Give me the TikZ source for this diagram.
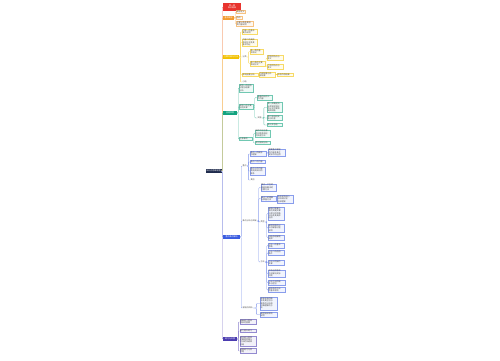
\documentclass[tikz,border=0pt]{standalone}
\usepackage{fontspec}
\setmainfont{Noto Sans CJK SC}
\usepackage{xcolor}
\usepackage{tikz}
\usetikzlibrary{positioning}
\definecolor{rootc}{HTML}{1F2B4D}
\definecolor{redc}{HTML}{E8342E}
\definecolor{orgc}{HTML}{F29B30}
\definecolor{ylwc}{HTML}{F2C100}
\definecolor{grnc}{HTML}{12A37F}
\definecolor{bluc}{HTML}{3A5CE0}
\definecolor{purc}{HTML}{4B3CB0}
\definecolor{inkc}{HTML}{4A4A4A}
\tikzset{
  mm/.style={rectangle, inner sep=0.5pt, align=left, font=\fontsize{2}{2.35}\selectfont},
  rootn/.style={mm, fill=rootc, text=white, minimum height=4pt, minimum width=16pt, align=center},
  brn/.style={mm, fill=#1, text=white, minimum height=4pt, anchor=west, align=center, inner sep=0.3pt},
  leaf/.style={mm, draw=#1!60, line width=0.25pt, fill=#1!7, text=inkc, anchor=west},
  tag/.style={mm, text=inkc, anchor=west},
  lk/.style={draw=#1!65, line width=0.35pt, rounded corners=0.8pt},
}
\begin{document}
\begin{tikzpicture}[x=1pt,y=-1pt]
  \useasboundingbox (0,0) rectangle (500,360);
  \node[rootn] (root) at (213.5,171) {知识点思维导图};

  % main branches
  \node[brn=redc, minimum width=18pt, minimum height=8pt] (title) at (223,7) {第一章\\知识框架};
  \node[brn=orgc, minimum width=11pt] (basic) at (223,18) {基本概念};
  \node[brn=ylwc, minimum width=16pt] (ylw) at (223,57) {主要内容与方法};
  \node[brn=grnc, minimum width=14pt] (grn) at (223,113) {应用举例};
  \node[brn=bluc, minimum width=17pt] (blu) at (223,237) {重点难点解析};
  \node[brn=purc, minimum width=14pt] (pur) at (223,339) {练习与巩固};

  % orange
  \node[leaf=orgc, text width=8pt] (o1) at (236,12) {概念定义};
  \node[leaf=orgc, text width=4.5pt] (o2) at (236,17.5) {特点};
  \node[leaf=orgc, text width=16pt] (o3) at (236,24) {主要分类及其相\\关内容说明};

  % yellow
  \node[leaf=ylwc, text width=14pt] (y1) at (242,32) {内容一的基本\\要点说明};
  \node[leaf=ylwc, text width=14pt] (y2) at (242,42.5) {内容二的具体\\表现形式及其\\基本特征};
  \node[tag] (y3) at (242,57) {分类};
  \node[leaf=ylwc, text width=12pt] (y31) at (250,51.5) {第一类的基\\本情况};
  \node[leaf=ylwc, text width=14pt] (y32) at (250,63.5) {第二类的主要\\表现形式};
  \node[leaf=ylwc, text width=15pt] (y321) at (267,58) {甲型的特点与\\意义};
  \node[leaf=ylwc, text width=15pt] (y322) at (267,66.5) {乙型的特点与\\意义};
  \node[leaf=ylwc, text width=15pt] (y4) at (242,74.5) {影响因素分析};
  \node[leaf=ylwc, text width=15pt] (y41) at (259,74.5) {内部因素与外\\部因素};
  \node[leaf=ylwc, text width=15pt] (y411) at (277,74.5) {综合作用结果};
  \node[tag] (y5) at (242,82) {小结};

  % green
  \node[leaf=grnc, text width=13pt] (g1) at (239,88) {实例一的应用\\过程与结果\\分析};
  \node[leaf=grnc, text width=13pt] (g2) at (239,106.5) {实例二的主要\\应用步骤};
  \node[leaf=grnc, text width=14pt] (g21) at (257,97.5) {准备阶段的工\\作内容};
  \node[tag] (g22) at (257,118) {实施};
  \node[leaf=grnc, text width=14pt] (g221) at (267,107.5) {第一步确定目\\标并制定相应\\的计划方案和\\具体措施};
  \node[leaf=grnc, text width=14pt] (g222) at (267,118) {第二步组织实\\施与检查};
  \node[leaf=grnc, text width=14pt] (g223) at (267,125) {第三步总结};
  \node[leaf=grnc, text width=12pt] (g3) at (239,139) {注意事项};
  \node[leaf=grnc, text width=14pt] (g31) at (255,133.5) {操作中应注意\\的问题及相应\\的处理方法};
  \node[leaf=grnc, text width=14pt] (g32) at (255,143) {常见错误分析};

  % blue
  \node[tag] (b1) at (242,166) {重点};
  \node[leaf=bluc, text width=15pt] (b11) at (250,154) {重点一的概念\\与理解};
  \node[leaf=bluc, text width=16pt] (b111) at (268,152.5) {需要重点掌握\\的内容及其在\\实际中的运用};
  \node[leaf=bluc, text width=14pt] (b12) at (250,162) {重点二的内容};
  \node[leaf=bluc, text width=14pt] (b13) at (250,171) {重点三的内容\\及相关知识的\\联系};
  \node[tag] (b14) at (250,180) {其他};
  \node[tag] (b2) at (242,221) {难点分析与突破};
  \node[leaf=bluc, text width=14pt] (b21) at (260.5,187.5) {难点一产生的\\原因及解决的\\主要方法};
  \node[leaf=bluc, text width=14pt] (b22) at (260.5,198.5) {难点二的理解\\与掌握方法};
  \node[leaf=bluc, text width=15pt] (b221) at (277,199) {结合实例进行\\分析和比较\\加深理解};
  \node[tag] (b23) at (260,222) {类型};
  \node[leaf=bluc, text width=15pt] (b231) at (268,213.5) {解题时需要注\\意的关键步骤\\与常见的思路\\分析及其具体\\运用};
  \node[leaf=bluc, text width=15pt] (b232) at (268,228) {典型例题的分\\析与解答过程\\说明};
  \node[leaf=bluc, text width=15pt] (b233) at (268,237.5) {归纳总结解题\\规律};
  \node[tag] (b24) at (260,262) {方法};
  \node[leaf=bluc, text width=15pt] (b241) at (268,245.5) {方法一的基本\\思路};
  \node[leaf=bluc, text width=15pt] (b242) at (268,253) {方法二的适用\\条件};
  \node[leaf=bluc, text width=15pt] (b243) at (268,262.5) {方法三的操作\\步骤};
  \node[leaf=bluc, text width=16pt] (b244) at (268,273.5) {综合运用各种\\方法解决实际\\问题};
  \node[leaf=bluc, text width=16pt] (b245) at (268,282.5) {方法之间的联\\系与区别};
  \node[leaf=bluc, text width=16pt] (b246) at (268,290) {选择合适方法\\的基本原则};
  \node[tag] (b3) at (242,308) {易错点辨析};
  \node[leaf=bluc, text width=16pt] (b31) at (260,303.5) {容易混淆的概\\念及其区别与\\联系的分析和\\正确理解的方\\法};
  \node[leaf=bluc, text width=16pt] (b32) at (260,314.5) {典型错误举例\\说明};

  % purple
  \node[leaf=purc, text width=15pt] (p1) at (239.5,322) {基础练习题目\\及参考答案};
  \node[leaf=purc, text width=15pt] (p2) at (239.5,331) {能力提升练习};
  \node[leaf=purc, text width=15pt] (p3) at (239.5,341) {综合练习题目\\的解题思路与\\方法的归纳和\\总结};
  \node[leaf=purc, text width=15pt] (p4) at (239.5,351) {拓展练习与思\\考题};

  % trunk
  \draw[lk=redc] (root.east) -- ++(0.6,0) |- (title.west);
  \draw[lk=orgc] (root.east) -- ++(0.6,0) |- (basic.west);
  \draw[lk=ylwc] (root.east) -- ++(0.6,0) |- (ylw.west);
  \draw[lk=grnc] (root.east) -- ++(0.6,0) |- (grn.west);
  \draw[lk=purc] (root.east) -- ++(0.6,0) |- (pur.west);
  \draw[lk=bluc] (root.east) -- ++(0.6,0) |- (blu.west);

  % orange links
  \draw[lk=orgc] (basic.east) -- ++(0.8,0) |- (o1.west);
  \draw[lk=orgc] (basic.east) -- ++(0.8,0) |- (o2.west);
  \draw[lk=orgc] (basic.east) -- ++(0.8,0) |- (o3.west);

  % yellow links
  \draw[lk=ylwc] (ylw.east) -- ++(1,0) |- (y1.west);
  \draw[lk=ylwc] (ylw.east) -- ++(1,0) |- (y2.west);
  \draw[lk=ylwc] (ylw.east) -- ++(1,0) |- (y3.west);
  \draw[lk=ylwc] (ylw.east) -- ++(1,0) |- (y4.west);
  \draw[lk=ylwc] (ylw.east) -- ++(1,0) |- (y5.west);
  \draw[lk=ylwc] (y3.east) -- ++(1.2,0) |- (y31.west);
  \draw[lk=ylwc] (y3.east) -- ++(1.2,0) |- (y32.west);
  \draw[lk=ylwc] (y32.east) -- ++(0.8,0) |- (y321.west);
  \draw[lk=ylwc] (y32.east) -- ++(0.8,0) |- (y322.west);
  \draw[lk=ylwc] (y4) -- (y41);
  \draw[lk=ylwc] (y41) -- (y411);

  % green links
  \draw[lk=grnc] (grn.east) -- ++(0.8,0) |- (g1.west);
  \draw[lk=grnc] (grn.east) -- ++(0.8,0) |- (g2.west);
  \draw[lk=grnc] (grn.east) -- ++(0.8,0) |- (g3.west);
  \draw[lk=grnc] (g2.east) -- ++(1.5,0) |- (g21.west);
  \draw[lk=grnc] (g2.east) -- ++(1.5,0) |- (g22.west);
  \draw[lk=grnc] (g22.east) -- ++(1.5,0) |- (g221.west);
  \draw[lk=grnc] (g22.east) -- ++(1.5,0) |- (g222.west);
  \draw[lk=grnc] (g22.east) -- ++(1.5,0) |- (g223.west);
  \draw[lk=grnc] (g3.east) -- ++(1.2,0) |- (g31.west);
  \draw[lk=grnc] (g3.east) -- ++(1.2,0) |- (g32.west);

  % blue links
  \draw[lk=bluc] (blu.east) -- ++(0.8,0) |- (b1.west);
  \draw[lk=bluc] (blu.east) -- ++(0.8,0) |- (b2.west);
  \draw[lk=bluc] (blu.east) -- ++(0.8,0) |- (b3.west);
  \draw[lk=bluc] (b1.east) -- ++(1,0) |- (b11.west);
  \draw[lk=bluc] (b1.east) -- ++(1,0) |- (b12.west);
  \draw[lk=bluc] (b1.east) -- ++(1,0) |- (b13.west);
  \draw[lk=bluc] (b1.east) -- ++(1,0) |- (b14.west);
  \draw[lk=bluc] (b11.east) -- ++(0.8,0) |- (b111.west);
  \draw[lk=bluc] (b2.east) -- ++(1.4,0) |- (b21.west);
  \draw[lk=bluc] (b2.east) -- ++(1.4,0) |- (b22.west);
  \draw[lk=bluc] (b2.east) -- ++(1.4,0) |- (b23.west);
  \draw[lk=bluc] (b2.east) -- ++(1.4,0) |- (b24.west);
  \draw[lk=bluc] (b22) -- (b221);
  \draw[lk=bluc] (b23.east) -- ++(1.4,0) |- (b231.west);
  \draw[lk=bluc] (b23.east) -- ++(1.4,0) |- (b232.west);
  \draw[lk=bluc] (b23.east) -- ++(1.4,0) |- (b233.west);
  \draw[lk=bluc] (b24.east) -- ++(1.4,0) |- (b241.west);
  \draw[lk=bluc] (b24.east) -- ++(1.4,0) |- (b242.west);
  \draw[lk=bluc] (b24.east) -- ++(1.4,0) |- (b243.west);
  \draw[lk=bluc] (b24.east) -- ++(1.4,0) |- (b244.west);
  \draw[lk=bluc] (b24.east) -- ++(1.4,0) |- (b245.west);
  \draw[lk=bluc] (b24.east) -- ++(1.4,0) |- (b246.west);
  \draw[lk=bluc] (b3.east) -- ++(3,0) |- (b31.west);
  \draw[lk=bluc] (b3.east) -- ++(3,0) |- (b32.west);

  % purple links
  \draw[lk=purc] (pur.east) -- ++(1,0) |- (p1.west);
  \draw[lk=purc] (pur.east) -- ++(1,0) |- (p2.west);
  \draw[lk=purc] (pur.east) -- ++(1,0) |- (p3.west);
  \draw[lk=purc] (pur.east) -- ++(1,0) |- (p4.west);
\end{tikzpicture}
\end{document}
